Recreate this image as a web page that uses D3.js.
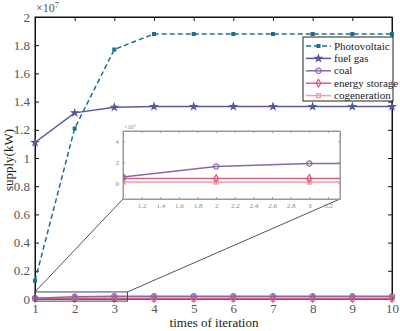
<!DOCTYPE html>
<html>
<head>
<meta charset="utf-8">
<script src="https://cdn.jsdelivr.net/npm/d3@7"></script>
<style>
  body { margin: 0; background: #fff; }
  svg text { font-family: "Liberation Serif", "Times New Roman", "DejaVu Serif", serif !important; }
</style>
</head>
<body>
<div id="chart"></div>
<script>
// iterations 1..10, supply in kW
var iterations = [1, 2, 3, 4, 5, 6, 7, 8, 9, 10];
var photovoltaic = [1.3e6, 1.21e7, 1.77e7, 1.88e7, 1.88e7, 1.88e7, 1.88e7, 1.88e7, 1.88e7, 1.88e7];
var fuelGas = [1.11e7, 1.32e7, 1.36e7, 1.365e7, 1.365e7, 1.365e7, 1.365e7, 1.365e7, 1.365e7, 1.365e7];
var coal = [0.6e5, 1.6e5, 1.9e5, 1.9e5, 1.9e5, 1.9e5, 1.9e5, 1.9e5, 1.9e5, 1.9e5];
var energyStorage = [0.45e5, 0.45e5, 0.45e5, 0.45e5, 0.45e5, 0.45e5, 0.45e5, 0.45e5, 0.45e5, 0.45e5];
var cogeneration = [0.12e5, 0.12e5, 0.12e5, 0.12e5, 0.12e5, 0.12e5, 0.12e5, 0.12e5, 0.12e5, 0.12e5];

var seriesNames = ["Photovoltaic", "fuel gas", "coal", "energy storage", "cogeneration"];
var xTicks = [1, 2, 3, 4, 5, 6, 7, 8, 9, 10];
var yTicks = [0, 0.2e7, 0.4e7, 0.6e7, 0.8e7, 1e7, 1.2e7, 1.4e7, 1.6e7, 1.8e7, 2e7];
var insetXTicks = [1.2, 1.4, 1.6, 1.8, 2, 2.2, 2.4, 2.6, 2.8, 3, 3.2];
var insetYTicks = [0, 2e5, 4e5];

var FONT = "'Liberation Serif', 'Times New Roman', serif";

var series = [
  {name: seriesNames[0], values: photovoltaic, color: "#1d6f8e", dash: "5,3", symbol: d3.symbolSquare, size: 8, fill: true},
  {name: seriesNames[1], values: fuelGas, color: "#55599a", dash: null, symbol: d3.symbolStar, size: 12, fill: true},
  {name: seriesNames[2], values: coal, color: "#8b67aa", dash: null, symbol: d3.symbolCircle, size: 22, fill: false},
  {name: seriesNames[3], values: energyStorage, color: "#e05a7e", dash: null, symbol: d3.symbolDiamond, size: 18, fill: false},
  {name: seriesNames[4], values: cogeneration, color: "#f39c9c", dash: null, symbol: d3.symbolSquare, size: 16, fill: false}
];

var width = 400, height = 331;
var svg = d3.select("#chart").append("svg")
    .attr("width", width)
    .attr("height", height)
    .attr("font-family", FONT);

var x = d3.scaleLinear().domain([1, 10]).range([35, 392]);
var y = d3.scaleLinear().domain([0, 2e7]).range([299, 17]);

var plot = svg.append("g");

// axes box with inward ticks on all four sides
function drawAxes(g, xs, ys, xt, yt, fmtX, fmtY, opt) {
  var r = xs.range(), rr = ys.range();
  g.append("g").attr("transform", "translate(0," + rr[0] + ")")
    .call(d3.axisBottom(xs).tickValues(xt).tickSizeInner(-opt.tick).tickSizeOuter(0).tickPadding(opt.pad).tickFormat(fmtX));
  g.append("g").attr("transform", "translate(0," + rr[1] + ")")
    .call(d3.axisTop(xs).tickValues(xt).tickSizeInner(-opt.tick).tickSizeOuter(0).tickFormat(""));
  g.append("g").attr("transform", "translate(" + r[0] + ",0)")
    .call(d3.axisLeft(ys).tickValues(yt).tickSizeInner(-opt.tick).tickSizeOuter(0).tickPadding(opt.pad).tickFormat(fmtY));
  g.append("g").attr("transform", "translate(" + r[1] + ",0)")
    .call(d3.axisRight(ys).tickValues(yt).tickSizeInner(-opt.tick).tickSizeOuter(0).tickFormat(""));
  g.selectAll("g").attr("font-family", FONT);
  g.selectAll(".domain").attr("stroke", opt.color).attr("stroke-width", opt.sw);
  g.selectAll(".tick line").attr("stroke", opt.color);
  g.selectAll(".tick text").attr("fill", opt.textColor).attr("font-size", opt.font);
  g.append("rect")
    .attr("x", r[0]).attr("y", rr[1])
    .attr("width", r[1] - r[0]).attr("height", rr[0] - rr[1])
    .attr("fill", "none").attr("stroke", opt.color).attr("stroke-width", opt.sw);
}

drawAxes(plot, x, y, xTicks, yTicks,
  function(d) { return d; },
  function(d) { var v = d / 1e7; return v === 0 || v === 1 || v === 2 ? v : v.toFixed(1); },
  {tick: 4, pad: 5, color: "#111", sw: 1, textColor: "#555", font: 13});

function drawSeries(g, xs, ys, s, idx) {
  var line = d3.line().x(function(d) { return xs(d[0]); }).y(function(d) { return ys(d[1]); });
  var pts = idx.map(function(i) { return [iterations[i], s.values[i]]; });
  g.append("path").datum(pts)
    .attr("d", line)
    .attr("fill", "none")
    .attr("stroke", s.color)
    .attr("stroke-width", 1.5)
    .attr("stroke-dasharray", s.dash);
  g.selectAll(null).data(pts).enter().append("path")
    .attr("transform", function(d) { return "translate(" + xs(d[0]) + "," + ys(d[1]) + ")"; })
    .attr("d", d3.symbol().type(s.symbol).size(s.size))
    .attr("fill", s.fill ? s.color : "none")
    .attr("stroke", s.color)
    .attr("stroke-width", 1.2);
}

var allIdx = d3.range(iterations.length);
series.slice().reverse().forEach(function(s) { drawSeries(plot, x, y, s, allIdx); });

// exponent
svg.append("text").attr("x", 36).attr("y", 12).attr("fill", "#555").attr("font-size", 12)
  .html("×10<tspan dy='-4' font-size='8'>7</tspan>");

// axis titles
svg.append("text").attr("x", 214).attr("y", 327).attr("text-anchor", "middle")
  .attr("fill", "#222").attr("font-size", 13).text("times of iteration");
svg.append("text").attr("transform", "translate(13,160) rotate(-90)").attr("text-anchor", "middle")
  .attr("fill", "#222").attr("font-size", 13).text("supply(kW)");

// zoom rectangle on main plot
var zx0 = 1, zx1 = 3.33, zy0 = -1.5e5, zy1 = 5e5;
svg.append("rect")
  .attr("x", x(zx0)).attr("y", y(zy1))
  .attr("width", x(zx1) - x(zx0)).attr("height", y(zy0) - y(zy1))
  .attr("fill", "none").attr("stroke", "#445").attr("stroke-width", 1);

// inset
var ix = d3.scaleLinear().domain([zx0, zx1]).range([123, 340]);
var iy = d3.scaleLinear().domain([zy0, zy1]).range([199, 131]);

svg.append("line").attr("x1", x(zx0)).attr("y1", y(zy1)).attr("x2", ix(zx0)).attr("y2", iy(zy0))
  .attr("stroke", "#555").attr("stroke-width", 1);
svg.append("line").attr("x1", x(zx1)).attr("y1", y(zy1)).attr("x2", ix(zx1)).attr("y2", iy(zy0))
  .attr("stroke", "#555").attr("stroke-width", 1);

var inset = svg.append("g");
inset.append("rect").attr("x", 123).attr("y", 131).attr("width", 217).attr("height", 68).attr("fill", "#fff");
var clip = svg.append("clipPath").attr("id", "insetclip");
clip.append("rect").attr("x", 123).attr("y", 131).attr("width", 217).attr("height", 68);
drawAxes(inset, ix, iy, insetXTicks, insetYTicks,
  function(d) { return d; },
  function(d) { return d / 1e5; },
  {tick: 2, pad: 4, color: "#999", sw: 1, textColor: "#888", font: 7});
var insetPlot = inset.append("g").attr("clip-path", "url(#insetclip)");
series.slice(2).reverse().forEach(function(s) { drawSeries(insetPlot, ix, iy, s, allIdx); });
svg.append("text").attr("x", 124).attr("y", 129).attr("fill", "#888").attr("font-size", 6)
  .html("×10<tspan dy='-2' font-size='5'>5</tspan>");

// legend
var lg = svg.append("g").attr("transform", "translate(303,37)");
lg.append("rect").attr("width", 90).attr("height", 64).attr("fill", "#fff").attr("stroke", "#222").attr("stroke-width", 1);
series.forEach(function(s, i) {
  var yy = 9 + i * 12.4;
  lg.append("line").attr("x1", 3).attr("x2", 28).attr("y1", yy).attr("y2", yy)
    .attr("stroke", s.color).attr("stroke-width", 1.5).attr("stroke-dasharray", s.dash);
  lg.append("path").attr("transform", "translate(15.5," + yy + ")")
    .attr("d", d3.symbol().type(s.symbol).size(s.size))
    .attr("fill", s.fill ? s.color : "none").attr("stroke", s.color).attr("stroke-width", 1.2);
  lg.append("text").attr("x", 31).attr("y", yy + 3.5).attr("fill", "#222")
    .attr("font-size", 11).text(s.name);
});
</script>
</body>
</html>
